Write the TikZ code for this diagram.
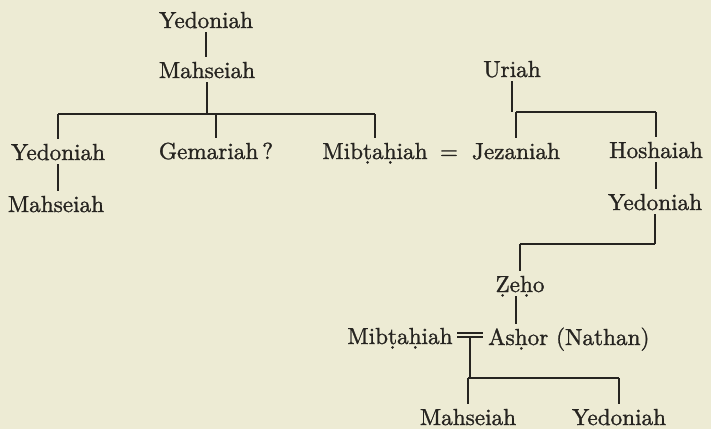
\documentclass[tikz,border=0pt]{standalone}
\usepackage{fontspec}
\newfontfamily\lmten{lmroman10-regular}[Extension=.otf, FakeBold=1.2]
\usepackage{tikz}
\definecolor{paper}{RGB}{237,235,212}
\definecolor{ink}{RGB}{38,36,32}
\begin{document}
\begin{tikzpicture}[x=1pt,y=-1pt,
 person/.style={inner xsep=0pt, inner ysep=4pt, text height=17pt, text depth=0pt,
   font=\lmten\fontsize{23.2}{26}\selectfont, text=ink, anchor=base},
 link/.style={draw=ink, line width=1.3pt}]
\fill[paper] (0,0) rectangle (711,429);
\useasboundingbox (0,0) rectangle (711,429);
% people
\node[person] (ya) at (206,28) {Yedoniah};
\node[person] (ma) at (207,78) {Mahseiah};
\node[person] (yb) at (58,160) {Yedoniah};
\node[person] (ge) at (216,159) {Gemariah\,?};
\node[person] (mba) at (375,159) {Mib\d{t}a\d{h}iah};
\node[person] (eqa) at (449,159) {=};
\node[person] (je) at (516,159) {Jezaniah};
\node[person] (ur) at (512,77) {Uriah};
\node[person] (ho) at (656,158) {Hoshaiah};
\node[person] (mb) at (56,212) {Mahseiah};
\node[person] (yc) at (655,210) {Yedoniah};
\node[person] (ze) at (520,292) {\d{Z}e\d{h}o};
\node[person] (mbb) at (400,344) {Mib\d{t}a\d{h}iah};
\node[person, anchor=base west] (as) at (488,345) {As\d{h}or (Nathan)};
\node[person] (mc) at (468,425) {Mahseiah};
\node[person] (yd) at (619,425) {Yedoniah};
% helper levels
\coordinate (h1) at (0,114);
\coordinate (h2) at (0,112);
\coordinate (h3) at (0,244);
\coordinate (h4) at (0,378);
\coordinate (mar) at (470,335);
% Yedoniah line
\draw[link] (ya.south) -- (ya.south |- ma.north);
\draw[link] (ma.south) -- (ma.south |- h1);
\draw[link] (yb.north |- h1) -- (mba.north |- h1);
\foreach \n in {yb,ge,mba} \draw[link] (\n.north) -- (\n.north |- h1);
\draw[link] (yb.south) -- (yb.south |- mb.north);
% Uriah line
\draw[link] (ur.south) -- (ur.south |- h2);
\draw[link] (je.north |- h2) -- (ho.north |- h2);
\foreach \n in {je,ho} \draw[link] (\n.north) -- (\n.north |- h2);
\draw[link] (ho.south) -- (ho.south |- yc.north);
\draw[link] (yc.south) -- (yc.south |- h3);
\draw[link] (ze.north |- h3) -- (yc.south |- h3);
\draw[link] (ze.north) -- (ze.north |- h3);
\draw[link] ([xshift=-4pt]ze.south) -- ([xshift=-4pt]ze.south |- as.north);
% marriage
\draw[link] ([shift={(-13,-2)}]mar) -- ([shift={(13,-2)}]mar);
\draw[link] ([shift={(-13,2)}]mar) -- ([shift={(13,2)}]mar);
\draw[link] ([shift={(0,2)}]mar) -- (mar |- h4);
\draw[link] (mc.north |- h4) -- (yd.north |- h4);
\foreach \n in {mc,yd} \draw[link] (\n.north) -- (\n.north |- h4);
\end{tikzpicture}
\end{document}
